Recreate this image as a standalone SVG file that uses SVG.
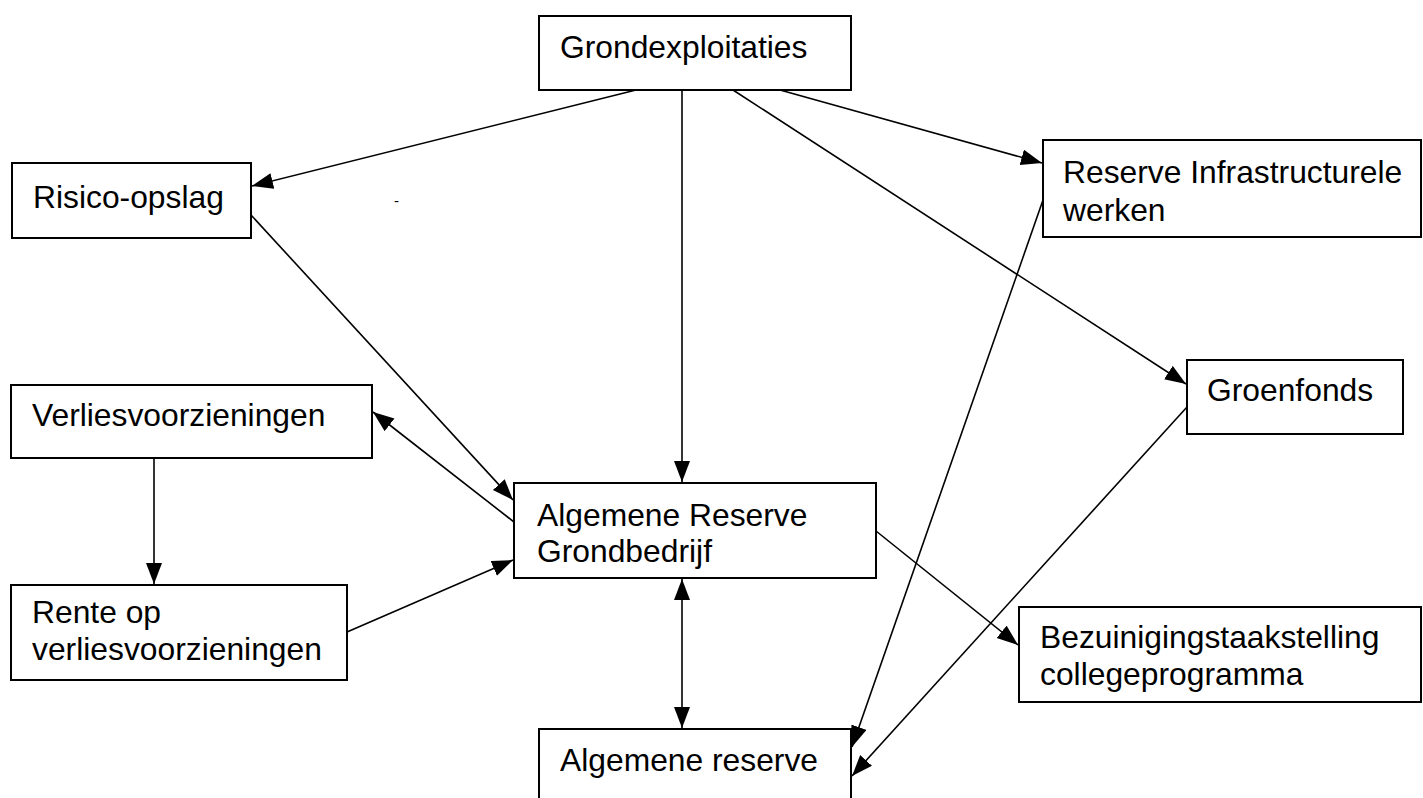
<svg xmlns="http://www.w3.org/2000/svg" width="1423" height="798" viewBox="0 0 1423 798">
<style>
.box{fill:#fff;stroke:#000;stroke-width:2}
.t{font-family:"Liberation Sans",Arial,sans-serif;font-size:31.8px;fill:#000}
.c{stroke:#000;stroke-width:1.6;fill:none;marker-end:url(#ah)}
</style>
<defs>
<marker id="ah" markerUnits="userSpaceOnUse" markerWidth="24" markerHeight="18" refX="21" refY="8" orient="auto-start-reverse" viewBox="0 0 24 18">
<path d="M0,0 L21,8 L0,16 z" fill="#000"/>
</marker>
</defs>
<rect width="1423" height="798" fill="#fff"/>
<g id="connectors">
<line class="c" x1="636" y1="90" x2="252" y2="186"/>
<line class="c" x1="682" y1="90" x2="682" y2="482"/>
<line class="c" x1="780" y1="90" x2="1042" y2="163"/>
<line class="c" x1="733" y1="90" x2="1186" y2="384"/>
<line class="c" x1="251" y1="215" x2="513" y2="500"/>
<line class="c" x1="514" y1="522" x2="373" y2="412"/>
<line class="c" x1="154" y1="458" x2="154" y2="584"/>
<line class="c" x1="347" y1="632" x2="513" y2="560"/>
<line class="c" x1="876" y1="531" x2="1018" y2="645"/>
<line class="c" x1="682" y1="579" x2="682" y2="728" style="marker-start:url(#ah)"/>
<line class="c" x1="1043" y1="200" x2="852" y2="747"/>
<line class="c" x1="1187" y1="407" x2="852" y2="776"/>
</g>
<g id="n-grondexploitaties"><rect class="box" x="539" y="16" width="312" height="74"/><text class="t" x="560" y="58">Grondexploitaties</text></g>
<g id="n-risico"><rect class="box" x="12" y="163" width="239" height="75"/><text class="t" x="33" y="208">Risico-opslag</text></g>
<text class="t" x="394" y="206" style="font-size:15px">-</text>
<g id="n-reserve-infra"><rect class="box" x="1043" y="140" width="378" height="97"/><text class="t" x="1063" y="183">Reserve Infrastructurele</text><text class="t" x="1063" y="221">werken</text></g>
<g id="n-groenfonds"><rect class="box" x="1187" y="360" width="216" height="74"/><text class="t" x="1207" y="401">Groenfonds</text></g>
<g id="n-verlies"><rect class="box" x="11" y="385" width="361" height="73"/><text class="t" x="32" y="426">Verliesvoorzieningen</text></g>
<g id="n-arg"><rect class="box" x="514" y="483" width="362" height="95"/><text class="t" x="537" y="526">Algemene Reserve</text><text class="t" x="537" y="562">Grondbedrijf</text></g>
<g id="n-rente"><rect class="box" x="11" y="585" width="336" height="95"/><text class="t" x="32" y="623">Rente op</text><text class="t" x="32" y="660">verliesvoorzieningen</text></g>
<g id="n-bezuiniging"><rect class="box" x="1019" y="607" width="402" height="95"/><text class="t" x="1040" y="648">Bezuinigingstaakstelling</text><text class="t" x="1040" y="685">collegeprogramma</text></g>
<g id="n-algemene-reserve"><rect class="box" x="539" y="729" width="312" height="80"/><text class="t" x="560" y="771">Algemene reserve</text></g>
</svg>
